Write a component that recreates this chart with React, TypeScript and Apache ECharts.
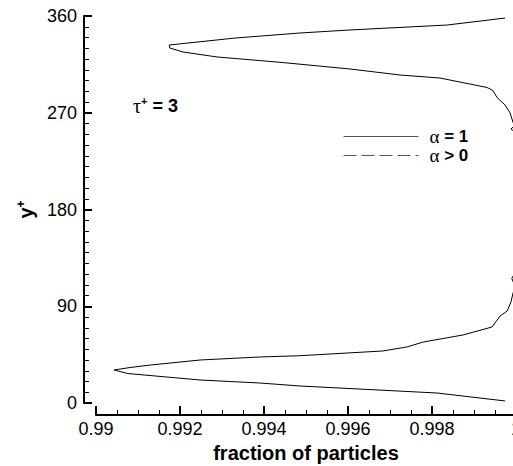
import React, { useEffect, useRef } from 'react';
import * as echarts from 'echarts';

// y+ positions (ascending) and the fraction of particles for alpha = 1
const yPlus = [
  1.9, 9.3, 15.8, 18.6, 21.4, 27.4, 30.7, 33.0, 35.3, 40.0, 42.8, 44.0, 48.4, 52.1, 56.7,
  63.3, 70.7, 80.9, 85.6, 94.0, 102.3, 108, 116, 122, 135, 150, 165, 180, 195, 210, 225,
  240, 252, 255, 258, 261, 269.8, 277.2, 284.1, 290.7, 293.5, 302.3, 305.1, 310.7, 316.7,
  321.9, 326.5, 330.2, 333.0, 339.5, 344.2, 347.0, 351.6, 358.1,
];
const fractionAlpha1 = [
  0.99974, 0.99812, 0.99486, 0.9939, 0.99248, 0.99076, 0.99043, 0.99081, 0.99129, 0.99248,
  0.9939, 0.99486, 0.99683, 0.9974, 0.99779, 0.99874, 0.99943, 0.99962, 0.99979, 0.99988,
  0.99993, 0.99998, 0.9999, 0.99999, 1.0, 0.99999, 1.0, 1.0, 1.0, 0.99999, 1.0,
  1.0, 0.99997, 0.99988, 0.99997, 0.99993, 0.99986, 0.99974, 0.99955, 0.99945, 0.99931,
  0.99819, 0.99724, 0.99605, 0.99445, 0.99288, 0.99207, 0.99176, 0.99174, 0.99331, 0.99486,
  0.99605, 0.99836, 0.99974,
];
// alpha > 0 lies on fraction = 1 (at the right border of the plot)
const yPlusAlphaPos = [0, 360];
const fractionAlphaPos = [1, 1];

const seriesNames = ['α = 1', 'α > 0'];
const xMin = 0.99;
const xMax = 1.0;
const xInterval = 0.002;
const yMin = 0;
const yMax = 360;
const yInterval = 90;

const FONT = 'Liberation Sans, Arial, Helvetica, sans-serif';
const GREEK = 'Liberation Serif, Times New Roman, serif';

export default function App() {
  const ref = useRef<HTMLDivElement>(null);
  useEffect(() => {
    if (!ref.current) return;
    const chart = echarts.init(ref.current, null, { renderer: 'svg' });
    const option: any = {
      animation: false,
      backgroundColor: '#fff',
      grid: { left: 96, top: 16, width: 420, height: 387, containLabel: false, outerBoundsMode: 'none' },
      legend: {
        left: 343,
        top: 127,
        padding: 0,
        orient: 'vertical',
        itemWidth: 75,
        itemHeight: 14,
        itemGap: 0,
        data: [
          { name: seriesNames[0], lineStyle: { type: 'solid', width: 1, color: '#555' } },
          { name: seriesNames[1], lineStyle: { type: [13, 5], width: 1, color: '#555' } },
        ],
        itemStyle: { opacity: 0, borderWidth: 0 },
        formatter: (name: string) => `{g|${name.slice(0, 1)}}{b|${name.slice(1)}}`,
        textStyle: {
          color: '#000',
          rich: {
            g: { fontFamily: GREEK, fontSize: 19, color: '#000', padding: [0, 0, 0, 6], lineHeight: 19 },
            b: { fontFamily: FONT, fontSize: 17, fontWeight: 'bold', color: '#000', lineHeight: 19 },
          },
        },
      },
      xAxis: {
        type: 'value',
        min: xMin,
        max: xMax,
        interval: xInterval,
        offset: 12,
        axisLine: { show: true, onZero: false, lineStyle: { color: '#000', width: 2 } },
        axisTick: { show: true, inside: true, length: 9, lineStyle: { color: '#000', width: 2 } },
        minorTick: { show: true, splitNumber: 4, length: 5, lineStyle: { color: '#000', width: 1 } },
        splitLine: { show: false },
        minorSplitLine: { show: false },
        axisLabel: {
          color: '#000',
          fontSize: 18,
          fontFamily: FONT,
          margin: 5,
          showMinLabel: true,
          showMaxLabel: true,
          formatter: (v: number) => String(parseFloat(v.toFixed(3))),
        },
        name: 'fraction of particles',
        nameLocation: 'middle',
        nameGap: 21,
        nameTextStyle: { color: '#000', fontSize: 20, fontWeight: 'bold', fontFamily: FONT },
      },
      yAxis: {
        type: 'value',
        min: yMin,
        max: yMax,
        interval: yInterval,
        offset: 12,
        axisLine: { show: true, onZero: false, lineStyle: { color: '#000', width: 2 } },
        axisTick: { show: true, inside: true, length: 8, lineStyle: { color: '#000', width: 2 } },
        minorTick: { show: true, splitNumber: 9, length: 5, lineStyle: { color: '#000', width: 1 } },
        splitLine: { show: false },
        minorSplitLine: { show: false },
        axisLabel: { color: '#000', fontSize: 18, fontFamily: FONT, margin: 7 },
        name: '{y|y}{p|+}',
        nameLocation: 'middle',
        nameRotate: 90,
        nameGap: 46,
        nameTextStyle: {
          color: '#000',
          rich: {
            y: { fontFamily: FONT, fontSize: 20, fontWeight: 'bold', color: '#000', lineHeight: 22 },
            p: { fontFamily: FONT, fontSize: 12, fontWeight: 'bold', color: '#000', lineHeight: 8, verticalAlign: 'top' },
          },
        },
      },
      graphic: [
        {
          type: 'text',
          left: 133,
          top: 95,
          style: {
            text: '{t|τ}{s|+}{b| = 3}',
            fill: '#000',
            rich: {
              t: { fontFamily: GREEK, fontSize: 20, lineHeight: 21, fill: '#000' },
              s: { fontFamily: FONT, fontSize: 11, fontWeight: 'bold', lineHeight: 6, verticalAlign: 'top', fill: '#000' },
              b: { fontFamily: FONT, fontSize: 18, fontWeight: 'bold', lineHeight: 21, fill: '#000' },
            },
          },
        },
      ],
      series: [
        {
          name: seriesNames[0],
          type: 'line',
          symbol: 'none',
          data: yPlus.map((y, i) => [fractionAlpha1[i], y]),
          lineStyle: { color: '#000', width: 1, type: 'solid' },
          itemStyle: { color: '#000' },
        },
        {
          name: seriesNames[1],
          type: 'line',
          symbol: 'none',
          data: yPlusAlphaPos.map((y, i) => [fractionAlphaPos[i], y]),
          lineStyle: { color: '#000', width: 1, type: [13, 5] },
          itemStyle: { color: '#000' },
        },
      ],
    };
    chart.setOption(option);
    return () => chart.dispose();
  }, []);
  return (
    <div
      ref={ref}
      style={{ position: 'fixed', left: 0, top: 0, width: 513, height: 466, background: '#fff' }}
    />
  );
}
